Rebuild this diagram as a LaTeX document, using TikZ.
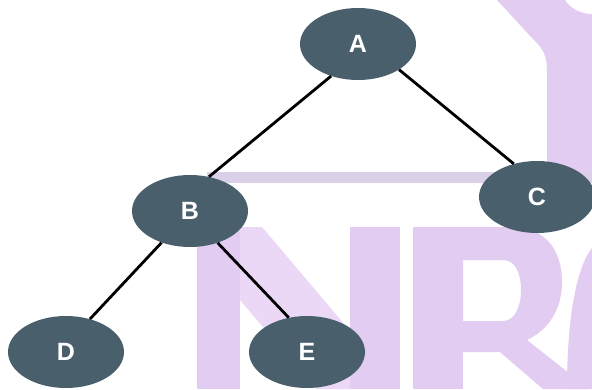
\documentclass[tikz,border=0pt]{standalone}
\usepackage{fontspec}
\setmainfont{Liberation Sans}
\usetikzlibrary{shapes.geometric}
\definecolor{nodefill}{RGB}{74,95,108}
\definecolor{wmark}{RGB}{226,204,242}
\definecolor{wmarklight}{RGB}{234,216,246}
\definecolor{wband}{RGB}{218,208,232}
\tikzset{
  treenode/.style={ellipse, fill=nodefill, draw=none, minimum width=116pt,
    minimum height=72pt, inner sep=0pt, text=white,
    font=\fontsize{25}{25}\selectfont\bfseries},
  edge/.style={draw=black, line width=2.8pt}
}
\begin{document}
\begin{tikzpicture}[x=1pt,y=-1pt]
\useasboundingbox (0,0) rectangle (592,389);
\fill[white] (0,0) rectangle (592,389);
\begin{scope}
\clip (0,0) rectangle (592,389);
% watermark: band
\fill[wband] (207,172) rectangle (592,183);
% watermark: top-right shape
\fill[wmark] (497,0) -- (532,38) .. controls (545,50) and (547,58) .. (547,72)
  -- (547,172) -- (592,172) -- (592,14) .. controls (580,14) and (570,8) .. (565,0) -- cycle;
% watermark: N
\fill[wmark] (197,227) rectangle (240,389);
\fill[wmarklight] (197,227) -- (262,227) -- (350,331) -- (350,389) -- (316,389) -- (240,300) -- (240,227) -- cycle;
\fill[wmark] (350,227) rectangle (400,389);
% watermark: R
\fill[wmark] (413,227) rectangle (463,389);
\fill[wmark, even odd rule] (463,227) -- (512,227) .. controls (545,227) and (562,250) .. (562,282)
  .. controls (562,310) and (548,330) .. (527,340) -- (589,389) -- (543,389) -- (500,352) -- (463,352) -- cycle
  (463,260) -- (503,260) .. controls (516,260) and (521,275) .. (521,290)
  .. controls (521,306) and (515,321) .. (503,321) -- (463,321) -- cycle;
% watermark: C
\fill[wmark] (592,248) .. controls (576,268) and (567,320) .. (567,389) -- (592,389) -- cycle;
\end{scope}
% tree
\node[treenode] (A) at (358,44) {A};
\node[treenode] (B) at (190,211) {B};
\node[treenode] (C) at (537,197) {C};
\node[treenode] (D) at (66,352) {D};
\node[treenode] (E) at (307,352) {E};
\draw[edge] (A.230) -- (B.61);
\draw[edge] (A.-32) -- (C.125);
\draw[edge] (B.228) -- (D.54);
\draw[edge] (B.-49) -- (E.118);
\end{tikzpicture}
\end{document}
